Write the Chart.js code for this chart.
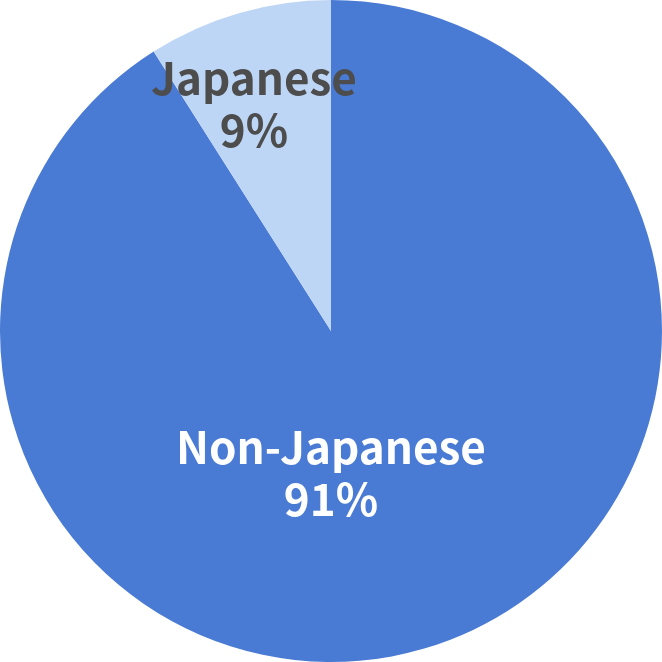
<!DOCTYPE html>
<html lang="en">
<head>
    <meta charset="UTF-8">
    <title>Japanese share</title>
    <script src="https://cdn.jsdelivr.net/npm/chart.js"></script>
    <style>
        html, body {
            margin: 0;
            padding: 0;
            background: #ffffff;
        }
        .chart-box {
            width: 662px;
            height: 662px;
        }
    </style>
</head>
<body>
    <div class="chart-box">
        <canvas id="pieChart"></canvas>
    </div>

    <script>
        // Data
        const categories = ['Non-Japanese', 'Japanese'];
        const shares = [91, 9];

        const sliceColors = ['#4a7bd4', '#bed6f5'];
        const labelColors = ['#ffffff', '#4d4d4d'];

        // label anchor, as a fraction of the radius from the centre
        const labelOffsets = [[0, 0.43], [-0.233, -0.686]];

        // Draws "name / percent" inside each slice
        const sliceLabels = {
            id: 'sliceLabels',
            afterDatasetsDraw(chart) {
                const ctx = chart.ctx;
                const arcs = chart.getDatasetMeta(0).data;
                ctx.save();
                ctx.font = 'bold 44px "Noto Sans CJK JP", "Noto Sans", sans-serif';
                ctx.textAlign = 'center';
                ctx.textBaseline = 'middle';
                arcs.forEach((arc, i) => {
                    const p = arc.getProps(['x', 'y', 'outerRadius'], true);
                    const x = p.x + labelOffsets[i][0] * p.outerRadius;
                    const y = p.y + labelOffsets[i][1] * p.outerRadius;
                    ctx.fillStyle = labelColors[i];
                    ctx.fillText(categories[i], x, y - 26);
                    ctx.fillText(shares[i] + '%', x, y + 26);
                });
                ctx.restore();
            }
        };

        new Chart(document.getElementById('pieChart'), {
            type: 'pie',
            data: {
                labels: categories,
                datasets: [{
                    data: shares,
                    backgroundColor: sliceColors,
                    borderWidth: 0
                }]
            },
            options: {
                responsive: true,
                maintainAspectRatio: false,
                animation: false,
                layout: { padding: 0 },
                plugins: {
                    legend: { display: false },
                    tooltip: { enabled: false }
                }
            },
            plugins: [sliceLabels]
        });
    </script>
</body>
</html>
